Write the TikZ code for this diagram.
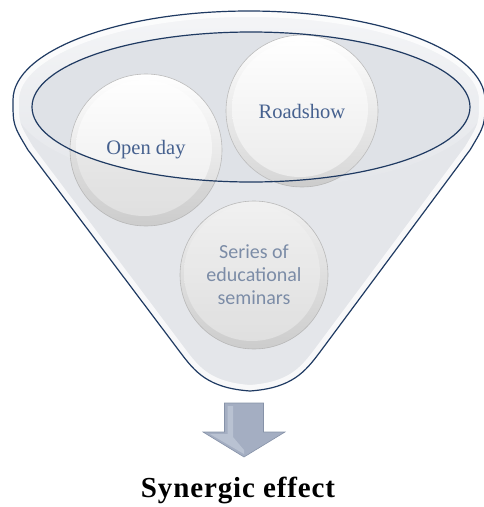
\documentclass[tikz,border=0pt]{standalone}
\usepackage{fontspec}
\setmainfont{Liberation Serif}
\newfontfamily\calibri{Carlito}
\usetikzlibrary{positioning}
\definecolor{funnelline}{HTML}{1F3A62}
\definecolor{facegray}{HTML}{E4E6EA}
\definecolor{mouthgray}{HTML}{DFE2E7}
\definecolor{rimwhite}{HTML}{F4F5F7}
\definecolor{ballrim}{HTML}{BCBCBC}
\definecolor{ballshade}{HTML}{D6D6D6}
\definecolor{ballinner}{HTML}{EAEAEA}
\definecolor{ballblue}{HTML}{46618F}
\definecolor{seriesblue}{HTML}{7A8DAB}
\definecolor{arrowfill}{HTML}{A4AEC2}
\definecolor{arrowlight}{HTML}{B9C2D2}
\definecolor{arrowedge}{HTML}{8692A8}
\tikzset{funnelshape/.style={insert path={(13,100) arc[start angle=180,end angle=360,x radius=236,y radius=89]
  .. controls (485,125) .. (470,150) -- (320,352) .. controls (305,372) and (292,388) .. (250,391)
  .. controls (208,388) and (195,372) .. (180,352) -- (28,150) .. controls (13,125) .. (13,100) -- cycle}}}

\begin{document}
\begin{tikzpicture}[x=1pt,y=-1pt,
  ball/.style={circle, inner sep=0pt, minimum size=152pt, draw=ballrim, line width=0.6pt,
    top color=white, bottom color=ballshade, text=ballblue, align=center,
    font=\fontsize{20.5}{24}\selectfont,
    path picture={\shade[top color=white, bottom color=ballinner]
      ([shift={(-2pt,2pt)}]path picture bounding box.center) circle (68pt);}},
  mouth/.style={funnelline, line width=1.2pt}]
    \useasboundingbox (0,0) rectangle (483,507);
    % funnel body and mouth
    \fill[facegray, funnelshape];
    \shade[top color=rimwhite, bottom color=facegray] (249,100) ellipse[x radius=236, y radius=89];
    \begin{scope}
      \clip[funnelshape];
      \draw[white, line width=12pt, opacity=.75, funnelshape];
    \end{scope}
    \fill[mouthgray] (251,107) ellipse[x radius=219, y radius=75];
    %
    \node[ball] (open) at (146,150) {Open day};
    \node[ball] (road) at (302,111) {Roadshow};
    \node[ball, minimum size=148pt, text=seriesblue,
      font=\calibri\fontsize{20}{23}\selectfont] (series) at (254,275) {Series of\\educational\\seminars};
    %
    \foreach \b/\r in {open/76,road/76,series/74}{
      \begin{scope}
        \clip (\b.center) circle (\r pt);
        \fill[black!45, opacity=.12, even odd rule, funnelshape] (251,107) ellipse[x radius=219, y radius=75];
      \end{scope}
    }
    \draw[mouth] (251,107) ellipse[x radius=219, y radius=75];
    \draw[mouth, funnelshape];
    % block arrow
    \coordinate (tip) at (244,457);
    \filldraw[fill=arrowfill, draw=arrowedge, line width=0.6pt]
      (224.5,403) -- (263.5,403) -- (263.5,432) -- (285,432) -- (tip) -- (203,432) -- (224.5,432) -- cycle;
    \fill[arrowlight] (227.5,406) -- (233,406) -- (233,437) -- (244,450) -- (244,454) -- (210,434) -- (227.5,434) -- cycle;
    \node[below=17pt of tip, xshift=-6pt,
      font=\bfseries\fontsize{29}{31}\selectfont\addfontfeature{LetterSpace=3}] (synergy) {Synergic effect};
\end{tikzpicture}
\end{document}
